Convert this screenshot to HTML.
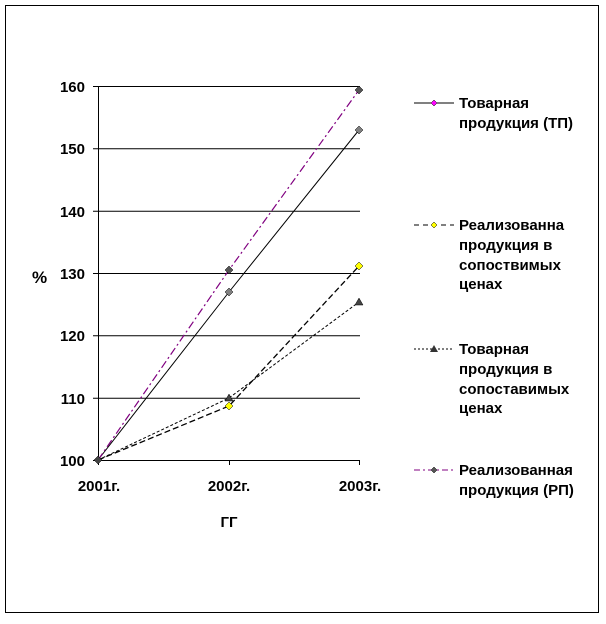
<!DOCTYPE html>
<html><head><meta charset="utf-8"><style>
body{margin:0;background:#fff;}
svg text{font-family:"Liberation Sans",Arial,sans-serif;font-weight:bold;font-size:15px;fill:#000;}
</style></head><body>
<svg width="606" height="619" xmlns="http://www.w3.org/2000/svg">
<rect x="5.5" y="5.5" width="593" height="607" fill="#fff" stroke="#000" stroke-width="1"/>
<g stroke="#000" stroke-width="1">
<line x1="93" y1="86.5" x2="360" y2="86.5"/>
<line x1="93" y1="148.8" x2="360" y2="148.8"/>
<line x1="93" y1="211.2" x2="360" y2="211.2"/>
<line x1="93" y1="273.5" x2="360" y2="273.5"/>
<line x1="93" y1="335.8" x2="360" y2="335.8"/>
<line x1="93" y1="398.2" x2="360" y2="398.2"/>
<line x1="93" y1="460.5" x2="360" y2="460.5"/>
<line x1="98.5" y1="86" x2="98.5" y2="465"/>
<line x1="229.5" y1="460" x2="229.5" y2="465"/>
<line x1="359.5" y1="460" x2="359.5" y2="465"/>
</g>
<g text-anchor="end">
<text x="85" y="92">160</text><text x="85" y="154">150</text><text x="85" y="217">140</text>
<text x="85" y="279">130</text><text x="85" y="341">120</text><text x="85" y="404">110</text><text x="85" y="466">100</text>
</g>
<g text-anchor="middle" style="font-size:16px">
<text x="99" y="491">2001г.</text><text x="229" y="491">2002г.</text><text x="360" y="491">2003г.</text>
<text x="229" y="527">ГГ</text>
</g>
<text x="32" y="283" style="font-size:17px">%</text>
<!-- series -->
<polyline points="98,460 229,292 359,130" fill="none" stroke="#000" stroke-width="1"/>
<polyline points="98,460 229,406 359,266" fill="none" stroke="#000" stroke-width="1.3" stroke-dasharray="6,3"/>
<polyline points="98,460 229,398 359,302" fill="none" stroke="#000" stroke-width="1" stroke-dasharray="3,2"/>
<polyline points="98,460 229,270 359,90" fill="none" stroke="#800080" stroke-width="1.2" stroke-dasharray="8,3,2,3"/>
<g stroke="#000" stroke-width="0.5">
<polygon points="229,288 233,292 229,296 225,292" fill="#808080"/>
<polygon points="359,126 363,130 359,134 355,130" fill="#808080"/>
<polygon points="229,402 233,406 229,410 225,406" fill="#ff0"/>
<polygon points="359,262 363,266 359,270 355,266" fill="#ff0"/>
<polygon points="229,394 233,401 225,401" fill="#444"/>
<polygon points="359,298 363,305 355,305" fill="#444"/>
<polygon points="229,266 233,270 229,274 225,270" fill="#555"/>
<polygon points="359,86 363,90 359,94 355,90" fill="#555"/>
<polygon points="98,456 102,460 98,464 94,460" fill="#444"/>
</g>
<!-- legend -->
<line x1="414" y1="103" x2="454" y2="103" stroke="#000"/>
<polygon points="434,100 437,103 434,106 431,103" fill="#f0f" stroke="#000" stroke-width="0.5"/>
<text x="459" y="108">Товарная</text><text x="459" y="128">продукция (ТП)</text>
<line x1="414" y1="225" x2="454" y2="225" stroke="#000" stroke-dasharray="5,4"/>
<polygon points="434,222 437,225 434,228 431,225" fill="#ff0" stroke="#000" stroke-width="0.5"/>
<text x="459" y="230">Реализованна</text><text x="459" y="250">продукция в</text><text x="459" y="270">сопоствимых</text><text x="459" y="289">ценах</text>
<line x1="414" y1="349" x2="454" y2="349" stroke="#000" stroke-dasharray="2,2"/>
<polygon points="434,345 438,352 430,352" fill="#333"/>
<text x="459" y="354">Товарная</text><text x="459" y="374">продукция в</text><text x="459" y="394">сопоставимых</text><text x="459" y="413">ценах</text>
<line x1="414" y1="470" x2="454" y2="470" stroke="#800080" stroke-dasharray="6,3,2,3"/>
<polygon points="434,467 437,470 434,473 431,470" fill="#555" stroke="#000" stroke-width="0.5"/>
<text x="459" y="475">Реализованная</text><text x="459" y="495">продукция (РП)</text>
</svg>
</body></html>
